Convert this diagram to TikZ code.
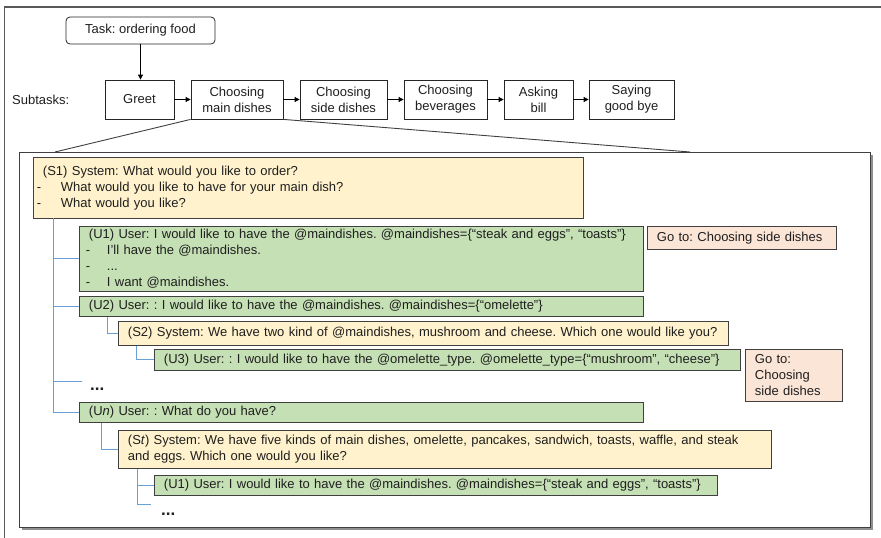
\documentclass[tikz,border=0pt]{standalone}
\usepackage{fontspec}
\setmainfont{Liberation Sans}
\usetikzlibrary{arrows.meta,shadows}
\definecolor{sysfill}{HTML}{FFF2CC}
\definecolor{usrfill}{HTML}{C5E0B4}
\definecolor{gofill}{HTML}{FBE5D6}
\definecolor{edgecol}{HTML}{404040}
\definecolor{treeblue}{HTML}{6A9FD8}
\begin{document}
\frenchspacing
\begin{tikzpicture}[x=1pt,y=-1pt,
  every node/.style={font=\fontsize{13}{16}\selectfont\frenchspacing, text=black!88},
  sub/.style={draw=black!85, line width=0.8pt, minimum height=39pt, align=center, inner sep=0pt},
  bx/.style={draw=edgecol, line width=0.9pt, anchor=north west, align=left, inner xsep=9.5pt, inner ysep=0pt},
  sysbox/.style={bx, fill=sysfill},
  usrbox/.style={bx, fill=usrfill},
  gobox/.style={bx, fill=gofill},
  flow/.style={-{Triangle[length=5pt,width=5pt]}, line width=0.8pt, black},
  tree/.style={draw=treeblue, line width=1pt},
  zoomline/.style={draw=black!75, line width=0.9pt},
  ell/.style={anchor=base west, inner sep=0pt, font=\fontsize{17}{20}\selectfont\bfseries}
]
\useasboundingbox (0,0) rectangle (881,538);
\begin{scope}
  \clip (0,0) rectangle (881,538);
  \draw[black!65, line width=1.3pt] (4.5,560) |- (900,7);
\end{scope}

% task and subtasks
\node[draw=black!85, rounded corners=4pt, line width=0.8pt, minimum width=149pt, minimum height=27pt] (task) at (140.5,30.5) {Task: ordering food};
\node[anchor=west, inner sep=0pt] (lbl) at (12,100) {Subtasks:};
\node[sub, minimum width=69pt] (greet) at (139.5,99.5) {Greet};
\node[sub, minimum width=92pt] (main) at (237,99.5) {Choosing\\main dishes};
\node[sub, minimum width=87pt] (side) at (343.5,99.5) {Choosing\\side dishes};
\node[sub, minimum width=83pt] (bev) at (445.5,99.5) {Choosing\\beverages};
\node[sub, minimum width=69pt] (bill) at (538.5,99.5) {Asking\\bill};
\node[sub, minimum width=85pt] (bye) at (631.5,99.5) {Saying\\good bye};
\draw[flow] (task.south) -- (task.south |- greet.north);
\draw[flow] (greet.east) -- (main.west);
\draw[flow] (main.east) -- (side.west);
\draw[flow] (side.east) -- (bev.west);
\draw[flow] (bev.east) -- (bill.west);
\draw[flow] (bill.east) -- (bye.west);

% zoom lines and frame
\coordinate (fl) at (55,152);
\coordinate (fr) at (690,152);
\draw[zoomline] (main.south west) -- (fl);
\draw[zoomline] (main.south east) -- (fr);
\node[draw=edgecol, line width=1pt, fill=white, drop shadow={shadow xshift=2.5pt, shadow yshift=-2.5pt, fill=black!55, opacity=0.8}, anchor=north west, minimum width=851pt, minimum height=375pt, inner sep=0pt] (frame) at (19,152) {};

% dialogue boxes
\node[sysbox, minimum width=550pt, text width=531pt, minimum height=61pt] (s1) at (33,157)
  {(S1) System: What would you like to order?\\
   \hspace*{-6pt}\makebox[24pt][l]{-}What would you like to have for your main dish?\\
   \hspace*{-6pt}\makebox[24pt][l]{-}What would you like?};
\node[usrbox, minimum width=564pt, text width=545pt, minimum height=65pt] (u1) at (79,226)
  {(U1) User: I would like to have the @maindishes. @maindishes=\{“steak and eggs”, “toasts”\}\\
   \hspace*{-3pt}\makebox[21pt][l]{-}I’ll have the @maindishes.\\
   \hspace*{-3pt}\makebox[21pt][l]{-}...\\
   \hspace*{-3pt}\makebox[21pt][l]{-}I want @maindishes.};
\node[gobox, minimum width=189pt, text width=170pt, minimum height=23pt] (go1) at (647,226) {Go to: Choosing side dishes};
\node[usrbox, minimum width=564pt, text width=545pt, minimum height=20pt] (u2) at (79,296)
  {(U2) User: : I would like to have the @maindishes. @maindishes=\{“omelette”\}};
\node[sysbox, minimum width=610pt, text width=591pt, minimum height=24pt] (s2) at (118,321)
  {(S2) System: We have two kind of @maindishes, mushroom and cheese. Which one would like you?};
\node[usrbox, minimum width=586pt, text width=567pt, minimum height=21pt] (u3) at (154,349)
  {(U3) User: : I would like to have the @omelette\_type. @omelette\_type=\{“mushroom”, “cheese”\}};
\node[gobox, minimum width=97pt, text width=78pt, minimum height=52pt] (go2) at (745,349) {Go to:\\Choosing\\side dishes};
\node[ell] (ell1) at (90,390) {...};
\node[usrbox, minimum width=564pt, text width=545pt, minimum height=20pt] (un) at (79,402)
  {(U\textit{n}) User: : What do you have?};
\node[sysbox, minimum width=653pt, text width=634pt, minimum height=38pt] (st) at (118,430)
  {(S\textit{t}) System: We have five kinds of main dishes, omelette, pancakes, sandwich, toasts, waffle, and steak\\and eggs. Which one would you like?};
\node[usrbox, minimum width=563pt, text width=544pt, minimum height=20pt] (u1b) at (154,475)
  {(U1) User: I would like to have the @maindishes. @maindishes=\{“steak and eggs”, “toasts”\}};
\node[ell] (ell2) at (161,515) {...};

% tree connectors
\coordinate (trunk) at (53,218);
\coordinate (dotsA) at (82,381);
\coordinate (dotsB) at (151,504);
\draw[tree] (trunk) |- (un.west);
\draw[tree] (trunk |- u1.west) -- (u1.west);
\draw[tree] (trunk |- u2.west) -- (u2.west);
\draw[tree] (trunk |- dotsA) -- (dotsA);
\draw[tree] ([xshift=28pt]u2.south west) |- (s2.west);
\draw[tree] ([xshift=18pt]s2.south west) |- (u3.west);
\draw[tree] ([xshift=22pt]un.south west) |- (st.west);
\draw[tree] ([xshift=19pt]st.south west) |- (dotsB);
\draw[tree] ([xshift=19pt]st.south west |- u1b.west) -- (u1b.west);
\end{tikzpicture}
\end{document}
